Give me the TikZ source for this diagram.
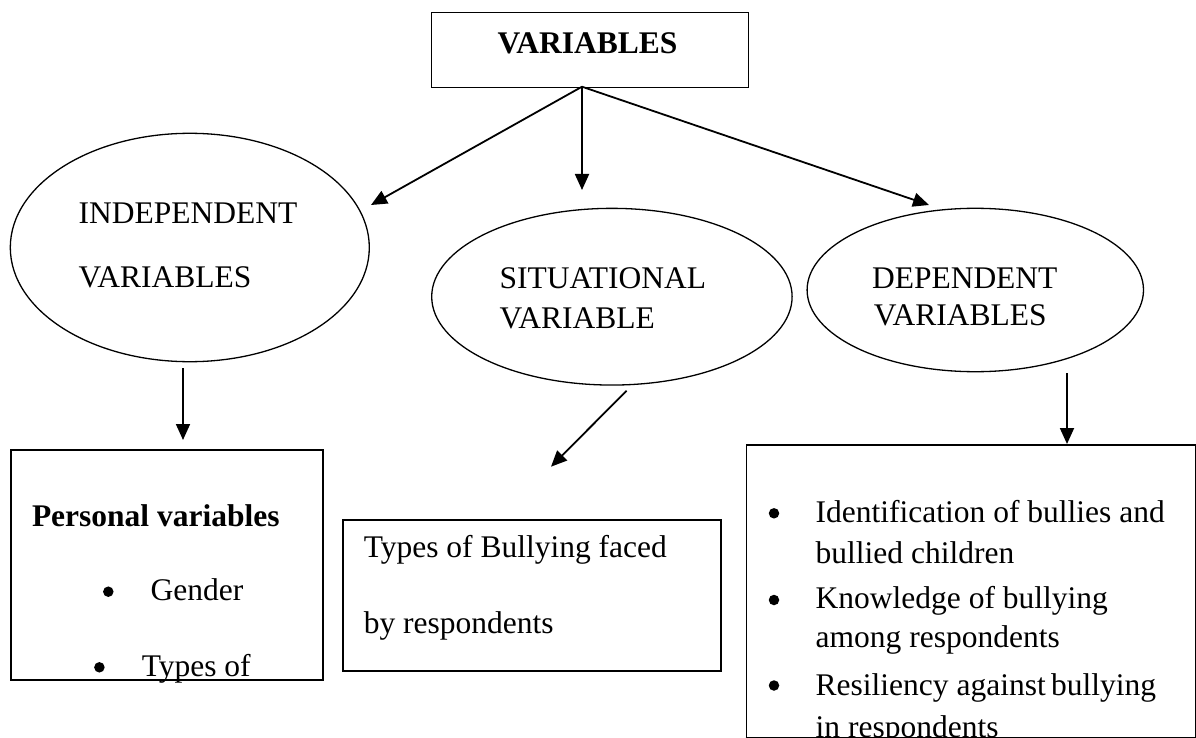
\documentclass[tikz,border=0pt]{standalone}
\usepackage{fontspec}
\setmainfont{Liberation Serif}
\usetikzlibrary{shapes.geometric,arrows.meta}
\begin{document}
\begin{tikzpicture}[x=1pt,y=-1pt,
  box/.style={draw, line width=1.8pt, rectangle, inner sep=0pt, anchor=north west},
  oval/.style={draw, line width=1.3pt, ellipse, inner sep=0pt},
  lbl/.style={anchor=base west, inner sep=0pt, font=\fontsize{31.5}{36}\selectfont},
  dot/.style={circle, fill=black, draw=none, inner sep=0pt, minimum size=10.5pt},
  arr/.style={line width=1.8pt, -{Triangle[length=16pt,width=14pt]}}]
\useasboundingbox (0,0) rectangle (1196,738);

% shapes
\node[box, line width=1.4pt, minimum width=317.5pt, minimum height=74.7pt] (top) at (430.5,12) {};
\node[oval, minimum width=359pt, minimum height=228.4pt] (ind) at (189.8,247.5) {};
\node[oval, minimum width=360.4pt, minimum height=176.7pt] (sit) at (611.9,296.7) {};
\node[oval, minimum width=336.4pt, minimum height=163.4pt] (dep) at (975.3,290) {};
\node[box, minimum width=311.9pt, minimum height=230pt] (pers) at (10.3,449) {};
\node[box, minimum width=377.9pt, minimum height=151pt] (types) at (341.8,519) {};
\node[box, minimum width=449.2pt, minimum height=292.5pt] (depbox) at (745.6,444) {};

% texts
\node[lbl, font=\fontsize{31.5}{36}\selectfont\bfseries] (tVar) at (497.5,54) {VARIABLES};
\node[lbl] (tInd1) at (78.5,223.3) {INDEPENDENT};
\node[lbl] (tInd2) at (78.5,287.3) {VARIABLES};
\node[lbl] (tSit1) at (499.4,288.3) {SITUATIONAL};
\node[lbl] (tSit2) at (499.4,328.3) {VARIABLE};
\node[lbl] (tDep1) at (871.8,288.3) {DEPENDENT};
\node[lbl] (tDep2) at (873.7,325) {VARIABLES};

\node[lbl, font=\fontsize{31.5}{36}\selectfont\bfseries] (tPers) at (31.8,526) {Personal variables};
\node[dot] (b1) at (108.3,591.7) {};
\node[lbl] (tGen) at (150.4,600) {Gender};
\node[dot] (b2) at (99.4,667.3) {};
\node[lbl] (tTyp) at (141.6,676.5) {Types of};

\node[lbl] (tTb1) at (363.6,557) {Types of Bullying faced};
\node[lbl] (tTb2) at (363.6,633) {by respondents};

\node[dot] (d1) at (774,513.3) {};
\node[lbl] (tD1) at (815.5,522) {Identification of bullies and};
\node[lbl] (tD2) at (815.5,563) {bullied children};
\node[dot] (d2) at (774,600) {};
\node[lbl] (tD3) at (815.5,608) {Knowledge of bullying};
\node[lbl] (tD4) at (815.5,647) {among respondents};
\node[dot] (d3) at (774,685.5) {};
\node[lbl] (tD5) at (815.5,695) {Resiliency against\,bullying};
\begin{scope}
  \clip (depbox.north west) rectangle (depbox.south east);
  \node[lbl] (tD6) at (815.5,737.5) {in respondents};
\end{scope}
\draw[line width=1.8pt] (depbox.south west) -- (depbox.south east);

% connector points
\coordinate (apex) at (582,86.7);
\coordinate (tipInd) at (371,205);
\coordinate (tipSit) at (582,190);
\coordinate (tipDep) at (929,205);
\coordinate (sInd) at (183,368);
\coordinate (eInd) at (183,440);
\coordinate (sSit) at (626.6,390.7);
\coordinate (eSit) at (551,466.7);
\coordinate (sDep) at (1067,373);
\coordinate (eDep) at (1067,444);

\draw[arr] (apex) -- (tipInd);
\draw[arr] (apex) -- (tipSit);
\draw[arr] (apex) -- (tipDep);
\draw[arr] (sInd) -- (eInd);
\draw[arr] (sSit) -- (eSit);
\draw[arr] (sDep) -- (eDep);
\end{tikzpicture}
\end{document}
